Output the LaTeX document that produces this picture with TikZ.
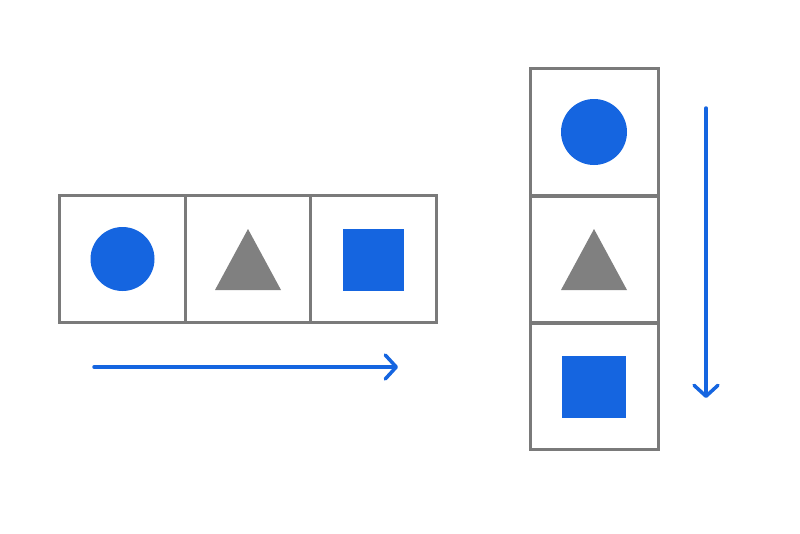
\documentclass[tikz,border=0pt]{standalone}
\usetikzlibrary{arrows.meta}
\definecolor{blu}{HTML}{1565E0}
\definecolor{gr}{HTML}{808080}
\definecolor{bd}{HTML}{7A7A7A}
\begin{document}
\begin{tikzpicture}[x=1pt,y=-1pt,
  cell/.style={draw=bd,line width=3pt,fill=white,minimum width=125.5pt,minimum height=126.5pt,inner sep=0pt},
  arr/.style={blu,line width=3.5pt,line cap=round,-{Straight Barb[length=11pt,width=24pt,line width=3.5pt,round]}}]
\useasboundingbox[fill=white] (0,0) rectangle (800,533);
% left row
\node[cell] (l1) at (122.5,259) {};
\node[cell] (l2) at (248,259) {};
\node[cell] (l3) at (373.5,259) {};
\fill[blu] (l1.center) circle (32);
\fill[gr] (248,229) -- (281,290) -- (215,290) -- cycle;
\fill[blu] (343,229) rectangle (404,291);
\coordinate (a1) at (94,367); \coordinate (a2) at (398,367);
\draw[arr] (a1) -- (a2);
% right column
\node[cell,minimum width=128pt] (r1) at (594,132) {};
\node[cell,minimum width=128pt] (r2) at (594,259.5) {};
\node[cell,minimum width=128pt] (r3) at (594,386.5) {};
\fill[blu] (r1.center) circle (33);
\fill[gr] (594,229) -- (627,290) -- (561,290) -- cycle;
\fill[blu] (562,356) rectangle (626,418);
\coordinate (b1) at (706,108); \coordinate (b2) at (706,398);
\draw[arr] (b1) -- (b2);
\end{tikzpicture}
\end{document}
